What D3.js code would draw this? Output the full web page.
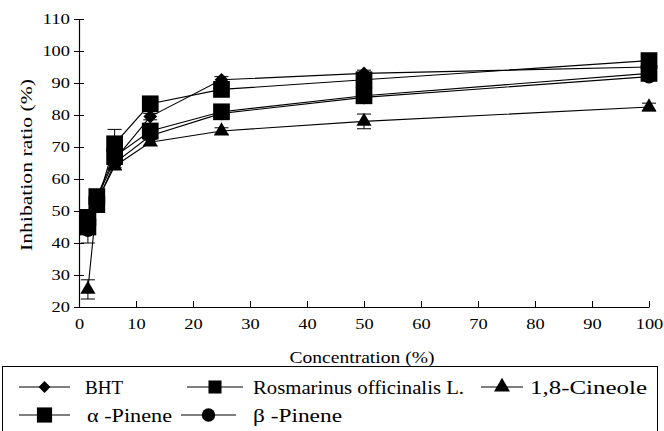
<!DOCTYPE html>
<html>
<head>
<meta charset="utf-8">
<script src="https://cdn.jsdelivr.net/npm/d3@7"></script>
<style>
  body { margin: 0; background: #fff; }
</style>
</head>
<body>
<div id="wrapper"></div>
<script>
// Data
const concentrations = [1.5625, 3.125, 6.25, 12.5, 25, 50, 100];
const seriesNames = ["BHT", "Rosmarinus officinalis L.", "1,8-Cineole", "\u03b1 -Pinene", "\u03b2 -Pinene"];
const bhtValues = [47, 54, 66, 79.5, 91, 93, 95];
const rosmarinusValues = [45, 52, 71, 83.5, 88, 91, 97];
const cineoleValues = [25.5, 53, 64, 71.5, 75, 78, 82.5];
const alphaPineneValues = [48, 54.5, 67, 75, 81, 86, 93];
const betaPineneValues = [44, 52.5, 65, 73.5, 80.5, 85.5, 92];
const bhtErrors = [1, 1, 1.5, 1, 1, 1, 1];
const rosmarinusErrors = [1.5, 1, 4.5, 1, 1, 1.5, 1];
const cineoleErrors = [3, 1, 1, 1, 1, 2.3, 1.2];
const alphaPineneErrors = [1.5, 1, 1.5, 1, 1, 1.5, 1];
const betaPineneErrors = [4, 1, 1.5, 1, 1, 1, 1];
const xTicks = [0, 10, 20, 30, 40, 50, 60, 70, 80, 90, 100];
const yTicks = [20, 30, 40, 50, 60, 70, 80, 90, 100, 110];

const FONT = "'Liberation Serif', serif";

const series = [
  {name: seriesNames[0], values: bhtValues, errors: bhtErrors, symbol: d3.symbolDiamond2, size: 120},
  {name: seriesNames[1], values: rosmarinusValues, errors: rosmarinusErrors, symbol: d3.symbolSquare, size: 280},
  {name: seriesNames[2], values: cineoleValues, errors: cineoleErrors, symbol: d3.symbolTriangle, size: 100},
  {name: seriesNames[3], values: alphaPineneValues, errors: alphaPineneErrors, symbol: d3.symbolSquare, size: 280},
  {name: seriesNames[4], values: betaPineneValues, errors: betaPineneErrors, symbol: d3.symbolCircle, size: 150},
];

const width = 664, height = 431;
const margin = {top: 19, right: 15, bottom: 124, left: 79};
const boundedWidth = width - margin.left - margin.right;
const boundedHeight = height - margin.top - margin.bottom;

const svg = d3.select("#wrapper").append("svg")
  .attr("width", width)
  .attr("height", height);

const bounds = svg.append("g")
  .attr("transform", `translate(${margin.left},${margin.top})`);

const xScale = d3.scaleLinear().domain([0, 100]).range([0, boundedWidth]);
const yScale = d3.scaleLinear().domain([20, 110]).range([boundedHeight, 0]);

// Axes
const yAxis = d3.axisLeft(yScale).tickValues(yTicks).tickSizeOuter(0);
const yAxisG = bounds.append("g").call(yAxis);
yAxisG.selectAll(".tick line").attr("x1", 5).attr("x2", -5);
yAxisG.selectAll(".tick text").attr("x", -9);

const xAxis = d3.axisBottom(xScale).tickValues(xTicks).tickSizeInner(-6).tickSizeOuter(0);
const xAxisG = bounds.append("g")
  .attr("transform", `translate(0,${boundedHeight})`)
  .call(xAxis);
xAxisG.selectAll(".tick text").attr("y", 22).attr("dy", null);

[yAxisG, xAxisG].forEach(g => {
  g.attr("font-family", null).attr("font-size", null);
  g.selectAll(".tick text")
    .style("font-family", FONT)
    .style("font-size", "14px")
    .attr("textLength", function () { return this.textContent.length * 9.2; })
    .attr("lengthAdjust", "spacingAndGlyphs");
  g.select(".domain").attr("stroke", "#000").attr("stroke-width", 1.2);
  g.selectAll(".tick line").attr("stroke", "#000");
});

svg.append("text")
  .attr("transform", `translate(32,${margin.top + boundedHeight / 2 + 2}) rotate(-90)`)
  .attr("text-anchor", "middle")
  .style("font-family", FONT)
  .style("font-size", "16px")
  .attr("textLength", 172)
  .attr("lengthAdjust", "spacingAndGlyphs")
  .text("Inhibation ratio (%)");

svg.append("text")
  .attr("x", 362)
  .attr("y", 363)
  .attr("text-anchor", "middle")
  .style("font-family", FONT)
  .style("font-size", "17px")
  .attr("textLength", 145)
  .attr("lengthAdjust", "spacingAndGlyphs")
  .text("Concentration (%)");

// Lines, error bars, markers
const line = d3.line()
  .x((d, i) => xScale(concentrations[i]))
  .y(d => yScale(d));

series.forEach(s => {
  bounds.append("path")
    .datum(s.values)
    .attr("d", line)
    .attr("fill", "none")
    .attr("stroke", "#000")
    .attr("stroke-width", 1.1);

  const eb = bounds.append("g").attr("stroke", "#000").attr("stroke-width", 1);
  s.values.forEach((v, i) => {
    const x = xScale(concentrations[i]);
    const y1 = yScale(v + s.errors[i]);
    const y2 = yScale(v - s.errors[i]);
    eb.append("line").attr("x1", x).attr("x2", x).attr("y1", y1).attr("y2", y2);
    eb.append("line").attr("x1", x - 7).attr("x2", x + 7).attr("y1", y1).attr("y2", y1);
    eb.append("line").attr("x1", x - 7).attr("x2", x + 7).attr("y1", y2).attr("y2", y2);
  });

  bounds.append("g").selectAll("path")
    .data(s.values)
    .join("path")
    .attr("transform", (d, i) => `translate(${xScale(concentrations[i])},${yScale(d)})`)
    .attr("d", d3.symbol().type(s.symbol).size(s.size))
    .attr("fill", "#000");
});

// Legend
const legend = svg.append("g");
legend.append("rect")
  .attr("x", 2.5).attr("y", 366.5)
  .attr("width", 655).attr("height", 80)
  .attr("fill", "none").attr("stroke", "#000").attr("stroke-width", 1);

const legendPos = [
  {x: 19, x2: 70, y: 387, textX: 85, textLen: 38},
  {x: 187, x2: 243, y: 387, textX: 253, textLen: 211},
  {x: 481, x2: 523, y: 387, textX: 530, textLen: 117},
  {x: 19, x2: 70, y: 415, textX: 87, textLen: 85},
  {x: 181, x2: 236, y: 415, textX: 253, textLen: 89},
];
const legendSizes = [90, 170, 110, 230, 140];

series.forEach((s, i) => {
  const p = legendPos[i];
  const g = legend.append("g");
  g.append("line")
    .attr("x1", p.x).attr("x2", p.x2)
    .attr("y1", p.y).attr("y2", p.y)
    .attr("stroke", "#000").attr("stroke-width", 1.1);
  g.append("path")
    .attr("transform", `translate(${(p.x + p.x2) / 2},${p.y})`)
    .attr("d", d3.symbol().type(s.symbol).size(legendSizes[i]))
    .attr("fill", "#000");
  g.append("text")
    .attr("x", p.textX).attr("y", p.y + 7)
    .style("font-family", FONT)
    .style("font-size", "19px")
    .attr("textLength", p.textLen)
    .attr("lengthAdjust", "spacingAndGlyphs")
    .text(s.name);
});
</script>
</body>
</html>
